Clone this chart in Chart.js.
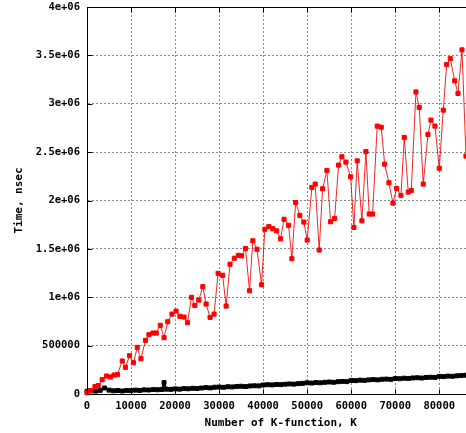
<!DOCTYPE html>
<html>
<head>
<meta charset="utf-8">
<title>K-function timing</title>
<script src="https://cdn.jsdelivr.net/npm/chart.js@4.4.0/dist/chart.umd.min.js"></script>
<style>
html, body { margin: 0; padding: 0; background: #fff; overflow: hidden; }
#wrap { width: 480px; height: 433px; }
</style>
</head>
<body>
<div id="wrap"><canvas id="ktime" width="480" height="433"></canvas></div>
<script>
// red series: slow variant
var redK = [0, 840, 1820, 2550, 3450, 4430, 5320, 6140, 6910, 8000,
	8750, 9660, 10550, 11410, 12250, 13270, 14070, 14980, 15730, 16640,
	17500, 18340, 19300, 20230, 21110, 22050, 22820, 23730, 24480, 25390,
	26300, 27050, 27950, 28860, 29770, 30800, 31590, 32480, 33450, 34360,
	35110, 36000, 36910, 37660, 38610, 39640, 40390, 41300, 42200, 43070,
	43950, 44750, 45770, 46520, 47390, 48340, 49250, 50000, 51070, 51820,
	52730, 53500, 54480, 55320, 56230, 57140, 57890, 58800, 59860, 60610,
	61360, 62430, 63340, 64090, 64860, 65910, 66820, 67590, 68570, 69480,
	70320, 71300, 72050, 72950, 73640, 74700, 75450, 76360, 77430, 78110,
	79020, 80000, 80910, 81680, 82500, 83500, 84250, 85160, 86070];
var redTime = [13000, 36000, 77000, 88000, 148000, 186000, 176000, 196000, 201000, 341000,
	276000, 396000, 323000, 482000, 365000, 555000, 613000, 630000, 630000, 710000,
	582000, 747000, 826000, 857000, 803000, 795000, 737000, 999000, 916000, 971000,
	1109000, 930000, 792000, 826000, 1247000, 1227000, 909000, 1341000, 1403000, 1433000,
	1428000, 1503000, 1067000, 1584000, 1496000, 1129000, 1703000, 1730000, 1708000, 1686000,
	1604000, 1806000, 1744000, 1398000, 1980000, 1846000, 1777000, 1591000, 2135000, 2170000,
	1488000, 2121000, 2311000, 1780000, 1815000, 2366000, 2452000, 2397000, 2245000, 1722000,
	2410000, 1790000, 2505000, 1860000, 1860000, 2769000, 2758000, 2376000, 2183000, 1973000,
	2125000, 2053000, 2652000, 2087000, 2104000, 3122000, 2962000, 2170000, 2683000, 2831000,
	2769000, 2333000, 2934000, 3406000, 3466000, 3237000, 3107000, 3557000, 2459000];

// black series: fast variant
var blackK = [0, 1000, 2000, 3000, 4000, 5000, 6000, 7000, 8000, 9000,
	10000, 11000, 12000, 13000, 14000, 15000, 16000, 17000, 17500, 18000, 19000,
	20000, 21000, 22000, 23000, 24000, 25000, 26000, 27000, 28000, 29000,
	30000, 31000, 32000, 33000, 34000, 35000, 36000, 37000, 38000, 39000,
	40000, 41000, 42000, 43000, 44000, 45000, 46000, 47000, 48000, 49000,
	50000, 51000, 52000, 53000, 54000, 55000, 56000, 57000, 58000, 59000,
	60000, 61000, 62000, 63000, 64000, 65000, 66000, 67000, 68000, 69000,
	70000, 71000, 72000, 73000, 74000, 75000, 76000, 77000, 78000, 79000,
	80000, 81000, 82000, 83000, 84000, 85000, 86000];
var blackTime = [28000, 32000, 30000, 38000, 62000, 40000, 33000, 36000, 31000, 37000,
	35000, 40000, 37000, 43000, 41000, 46000, 44000, 47000, 118000, 50000, 48000,
	53000, 50000, 56000, 54000, 59000, 57000, 62000, 66000, 63000, 70000,
	72000, 69000, 75000, 73000, 78000, 80000, 77000, 83000, 85000, 84000,
	93000, 96000, 94000, 98000, 97000, 101000, 104000, 102000, 107000, 110000,
	116000, 113000, 118000, 116000, 121000, 124000, 121000, 127000, 130000, 128000,
	140000, 138000, 143000, 141000, 146000, 149000, 146000, 152000, 154000, 151000,
	160000, 158000, 163000, 161000, 166000, 168000, 165000, 171000, 173000, 171000,
	182000, 180000, 185000, 183000, 188000, 191000, 194000];

var xTicks = [0, 10000, 20000, 30000, 40000, 50000, 60000, 70000, 80000];
var yTickLabels = ['0', '500000', '1e+06', '1.5e+06', '2e+06', '2.5e+06', '3e+06', '3.5e+06', '4e+06'];

function toPoints(xs, ys) {
	var out = [];
	for (var i = 0; i < xs.length; i++) {
		out.push({x: xs[i], y: ys[i]});
	}
	return out;
}

// gnuplot style frame with inward tick marks
var frame = {
	id: 'frame',
	afterDraw: function(chart) {
		var ctx = chart.ctx;
		var a = chart.chartArea;
		var xs = chart.scales.x, ys = chart.scales.y;
		var l = Math.round(a.left) + 0.5, t = Math.round(a.top) + 0.5;
		var r = Math.round(a.right) + 0.5, b = Math.round(a.bottom) + 0.5;
		ctx.save();
		ctx.strokeStyle = '#000';
		ctx.lineWidth = 1;
		ctx.beginPath();
		xs.ticks.forEach(function(tk) {
			var px = Math.round(xs.getPixelForValue(tk.value)) + 0.5;
			ctx.moveTo(px, b); ctx.lineTo(px, b - 5);
			ctx.moveTo(px, t); ctx.lineTo(px, t + 5);
		});
		ys.ticks.forEach(function(tk) {
			var py = Math.round(ys.getPixelForValue(tk.value)) + 0.5;
			ctx.moveTo(l, py); ctx.lineTo(l + 5, py);
			ctx.moveTo(r, py); ctx.lineTo(r - 5, py);
		});
		ctx.moveTo(l, t); ctx.lineTo(r, t); ctx.lineTo(r, b); ctx.lineTo(l, b); ctx.closePath();
		ctx.stroke();
		ctx.restore();
	}
};

var tickFont = {family: 'DejaVu Sans Mono', size: 10.5, weight: 'bold'};
var titleFont = {family: 'DejaVu Sans Mono', size: 11, weight: 'bold'};

var chart = new Chart(document.getElementById('ktime'), {
	type: 'line',
	data: {
		datasets: [
			{
				label: 'slow',
				data: toPoints(redK, redTime),
				borderColor: 'rgba(235, 0, 0, 0.85)',
				borderWidth: 1,
				pointStyle: 'rect',
				pointRadius: 2.9,
				pointBackgroundColor: '#f00',
				pointBorderColor: '#f00',
				pointBorderWidth: 1,
				clip: 8
			},
			{
				label: 'fast',
				data: toPoints(blackK, blackTime),
				borderColor: '#000',
				borderWidth: 2,
				pointStyle: 'rect',
				pointRadius: 2.8,
				pointBackgroundColor: '#000',
				pointBorderColor: '#000',
				pointBorderWidth: 1,
				clip: 8
			}
		]
	},
	options: {
		responsive: false,
		animation: false,
		layout: {padding: {top: 7, right: 5.5, left: 0, bottom: 0}},
		plugins: {legend: {display: false}, tooltip: {enabled: false}},
		scales: {
			x: {
				type: 'linear',
				min: 0,
				max: 88000,
				afterBuildTicks: function(axis) {
					axis.ticks = xTicks.map(function(v) { return {value: v}; });
				},
				afterFit: function(s) { s.height = 39; s.paddingLeft = 0; s.paddingRight = 0; },
				grid: {color: '#8a8a8a', drawTicks: false},
				border: {color: '#000', dash: [2, 2]},
				ticks: {
					color: '#000',
					font: tickFont,
					padding: 6,
					maxRotation: 0,
					callback: function(v) { return String(v); }
				},
				title: {display: true, text: 'Number of K-function, K', color: '#000', font: titleFont, padding: {top: 0, bottom: 3}}
			},
			y: {
				min: 0,
				max: 4000000,
				afterFit: function(s) { s.width = 87; s.paddingTop = 0; s.paddingBottom = 0; },
				grid: {color: '#8a8a8a', drawTicks: false},
				border: {color: '#000', dash: [2, 2]},
				ticks: {
					stepSize: 500000,
					color: '#000',
					font: tickFont,
					padding: 7,
					callback: function(v, i) { return yTickLabels[i]; }
				},
				title: {display: true, text: 'Time, nsec', color: '#000', font: titleFont, padding: {top: 13, bottom: 0}}
			}
		}
	},
	plugins: [frame]
});
</script>
</body>
</html>
